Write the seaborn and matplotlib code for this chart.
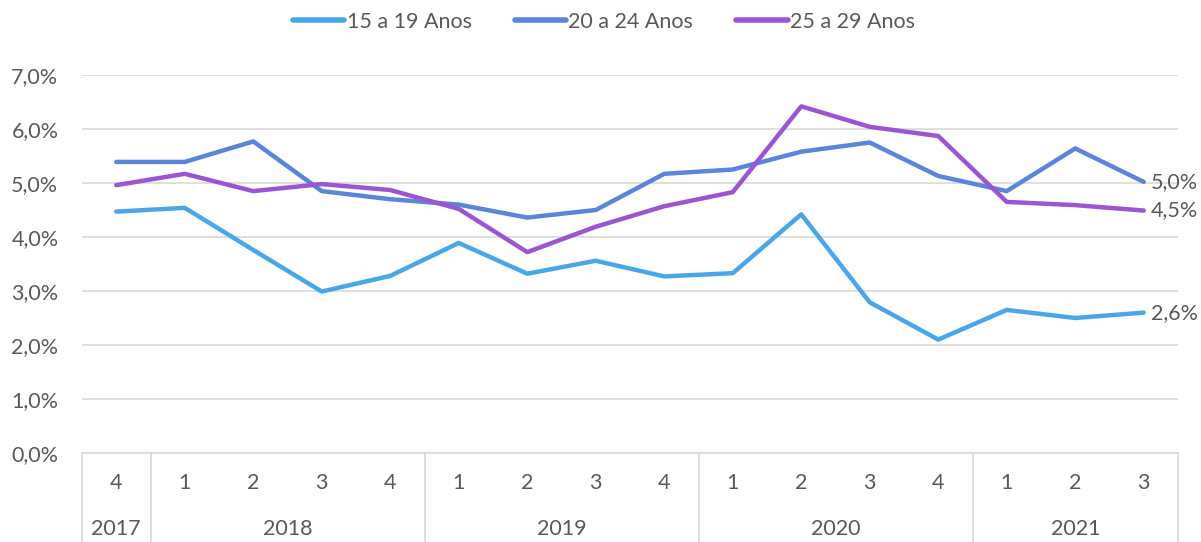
import numpy as np
import pandas as pd
import matplotlib
matplotlib.use("Agg")
import matplotlib.pyplot as plt
import matplotlib.transforms as mtransforms
import seaborn as sns
from matplotlib.ticker import FuncFormatter

# dados (taxa por trimestre, 4T2017 a 3T2021)
trimestres = ["4", "1", "2", "3", "4", "1", "2", "3", "4",
              "1", "2", "3", "4", "1", "2", "3"]
anos = ["2017", "2018", "2019", "2020", "2021"]
trimestres_por_ano = [1, 4, 4, 4, 3]

series = ["15 a 19 Anos", "20 a 24 Anos", "25 a 29 Anos"]
v_15_19 = [4.47, 4.54, 3.76, 2.99, 3.28, 3.89, 3.32, 3.56, 3.27,
           3.33, 4.42, 2.79, 2.10, 2.65, 2.50, 2.60]
v_20_24 = [5.39, 5.39, 5.77, 4.85, 4.70, 4.60, 4.36, 4.50, 5.17,
           5.25, 5.58, 5.75, 5.13, 4.85, 5.64, 5.02]
v_25_29 = [4.96, 5.17, 4.85, 4.98, 4.87, 4.52, 3.72, 4.19, 4.57,
           4.83, 6.42, 6.04, 5.87, 4.65, 4.59, 4.49]

cores = ["#48A7EA", "#5B84DB", "#9B55D4"]
texto = "#595959"
grade = "#D9D9D9"
FS = 15.5

x = np.arange(len(trimestres))
df = pd.DataFrame({
    "x": np.tile(x, 3),
    "valor": np.concatenate([v_15_19, v_20_24, v_25_29]) / 100,
    "serie": np.repeat(series, len(x)),
})

sns.set_theme(style="white")
plt.rcParams["font.family"] = ["Lato", "DejaVu Sans"]

fig = plt.figure(figsize=(12.01, 5.42), dpi=100)
ax = fig.add_axes([82 / 1201, 1 - 453 / 542, (1178 - 82) / 1201, (453 - 75) / 542])

sns.lineplot(data=df, x="x", y="valor", hue="serie", palette=cores,
             linewidth=3.2, ax=ax, legend=True)
for ln in ax.lines:
    ln.set_solid_capstyle("round")
    ln.set_solid_joinstyle("round")

ax.set_xlim(-0.5, len(x) - 0.5)
ax.set_ylim(0, 0.07)
ax.set_yticks(np.arange(0, 0.0701, 0.01))
ax.yaxis.set_major_formatter(FuncFormatter(lambda v, p: f"{v*100:.1f}%".replace(".", ",")))
ax.yaxis.grid(True, color=grade, linewidth=1.2)
ax.set_axisbelow(True)
ax.tick_params(axis="y", length=0, pad=17, labelsize=FS, labelcolor=texto)
ax.set_xticks([])
ax.set_xlabel("")
ax.set_ylabel("")
for s in ["top", "right", "left"]:
    ax.spines[s].set_visible(False)
ax.spines["bottom"].set_color(grade)
ax.spines["bottom"].set_linewidth(1.2)

# eixo de categorias em dois níveis
trans = mtransforms.blended_transform_factory(ax.transData, ax.transAxes)
for xi, q in zip(x, trimestres):
    ax.text(xi, -0.08, q, transform=trans, ha="center", va="center",
            fontsize=FS, color=texto)
limites = np.concatenate([[0], np.cumsum(trimestres_por_ano)]) - 0.5
for b in limites:
    ax.plot([b, b], [0, -0.24], transform=trans, color=grade, lw=1.2, clip_on=False)
for a, ini, fim in zip(anos, limites[:-1], limites[1:]):
    ax.text((ini + fim) / 2, -0.2, a, transform=trans, ha="center", va="center",
            fontsize=FS, color=texto)

# rótulos finais
for vals in [v_15_19, v_20_24, v_25_29]:
    ax.text(x[-1] + 0.1, vals[-1] / 100, f"{vals[-1]:.1f}%".replace(".", ","),
            ha="left", va="center", fontsize=FS, color=texto, clip_on=False)

leg = ax.legend(loc="center", bbox_to_anchor=(604 / 1201, 1 - 22 / 542),
                bbox_transform=fig.transFigure, ncol=3, frameon=False,
                fontsize=FS, handlelength=2.4, handletextpad=0.1, columnspacing=2.0)
for t in leg.get_texts():
    t.set_color(texto)
for h in leg.get_lines():
    h.set_linewidth(4)
    h.set_solid_capstyle("round")

fig.savefig("out.png", dpi=100, facecolor="white")
